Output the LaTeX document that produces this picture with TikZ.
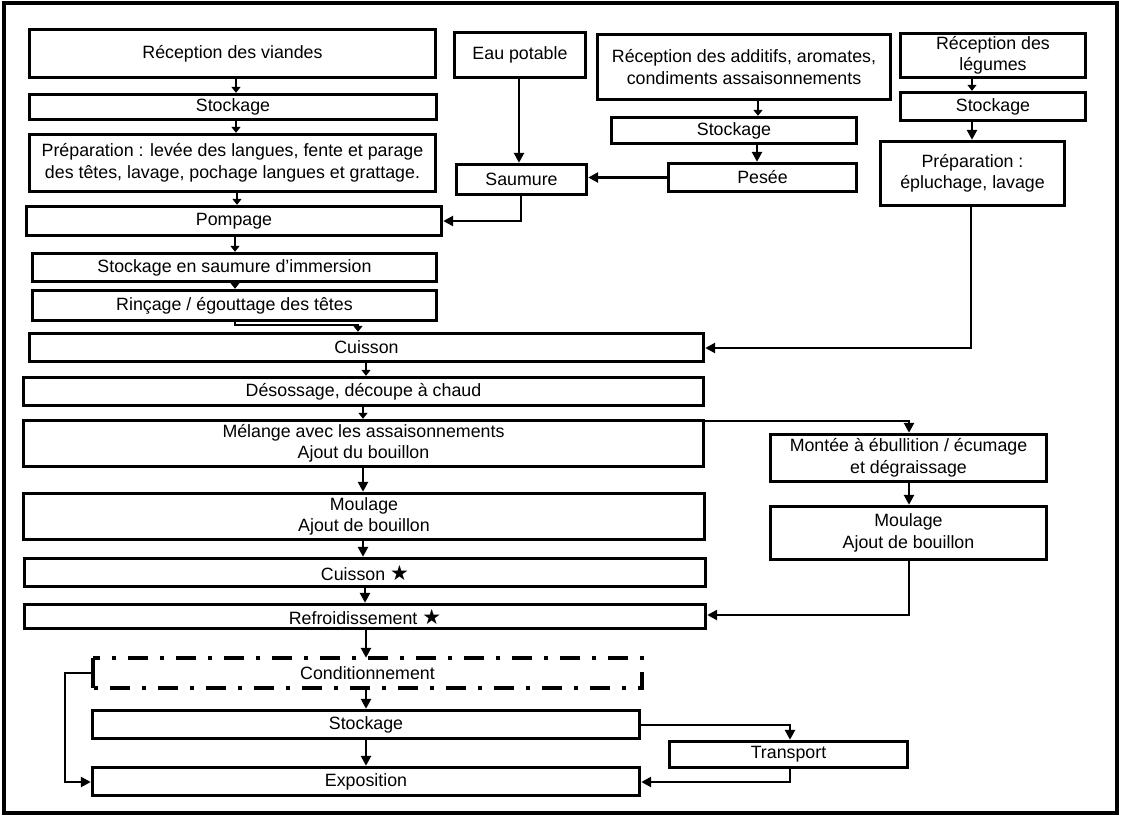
\documentclass[tikz,border=0pt]{standalone}
\usepackage{fontspec}
\setmainfont{Liberation Sans}
\newfontfamily\symfont{DejaVu Sans}
\usetikzlibrary{arrows.meta}
\newcommand{\etoile}{{\symfont\fontsize{21}{16}\selectfont ★}}
\begin{document}
\begin{tikzpicture}[x=1pt,y=-1pt,
  box/.style={draw, line width=3.4pt, inner sep=1pt, align=center,
    font=\fontsize{17.8}{21.5}\selectfont},
  conn/.style={line width=2.8pt, -{Triangle[length=10pt,width=10pt]}},
  shortconn/.style={line width=2.8pt, -{Triangle[length=6pt,width=9pt]}},
  ddbox/.style={box, draw=none},
  ddline/.style={line width=3.6pt, dash pattern=on 20pt off 12pt on 4pt off 12pt}]
\useasboundingbox (0,0) rectangle (1122,817);
\draw[line width=4pt] (4,3) rectangle (1117,813);

% left column
\node[box, minimum width=406pt, minimum height=48pt] (rv) at (232.5,53.5) {Réception des viandes};
\node[box, minimum width=407pt, minimum height=25pt] (st1) at (233,107) {Stockage};
\node[box, minimum width=406pt, minimum height=57pt] (prep) at (232.5,163) {Préparation : levée des langues, fente et parage\\des têtes, lavage, pochage langues et grattage.};
\node[box, minimum width=415pt, minimum height=29pt] (pomp) at (234,221) {Pompage};
\node[box, minimum width=404pt, minimum height=28pt] (ssi) at (234.5,267.5) {Stockage en saumure d’immersion};
\node[box, minimum width=404pt, minimum height=30pt] (rinc) at (234.5,305.5) {Rinçage / égouttage des têtes};
\node[box, minimum width=674pt, minimum height=28pt] (cuis) at (366.5,347.5) {Cuisson};
\node[box, minimum width=680pt, minimum height=28pt] (deso) at (363.5,391.5) {Désossage, découpe à chaud};
\node[box, minimum width=680pt, minimum height=46pt] (mel) at (363.5,443.5) {Mélange avec les assaisonnements\\Ajout du bouillon};
\node[box, minimum width=681pt, minimum height=46pt] (moul) at (364,516.5) {Moulage\\Ajout de bouillon};
\node[box, minimum width=681pt, minimum height=28pt] (cuis2) at (365,572.5) {Cuisson \etoile};
\node[box, minimum width=681pt, minimum height=24pt] (refr) at (365,616.5) {Refroidissement \etoile};
\node[ddbox, minimum width=546pt, minimum height=27pt] (cond) at (367.5,673) {Conditionnement};
\draw[ddline] (cond.north west) rectangle (cond.south east);
\draw[line width=3.6pt] (cond.north west) -- (cond.south west);
\node[box, minimum width=547pt, minimum height=28pt] (stk) at (366,724.5) {Stockage};
\node[box, minimum width=547pt, minimum height=28pt] (expo) at (366,781.5) {Exposition};
\node[box, minimum width=238pt, minimum height=26pt] (trans) at (788.5,754.5) {Transport};

% upper middle / right
\node[box, minimum width=131pt, minimum height=45pt] (eau) at (520,55) {Eau potable};
\node[box, minimum width=130pt, minimum height=30pt] (saum) at (521.5,179.5) {Saumure};
\node[box, minimum width=293pt, minimum height=65pt] (radd) at (744,67) {Réception des additifs, aromates,\\condiments assaisonnements};
\node[box, minimum width=245pt, minimum height=26pt] (st2) at (734,130.5) {Stockage};
\node[box, minimum width=188pt, minimum height=28pt] (pes) at (762.5,177.5) {Pesée};
\node[box, minimum width=185pt, minimum height=44pt] (rleg) at (993,55.5) {Réception des\\légumes};
\node[box, minimum width=185pt, minimum height=28pt] (st3) at (993,106.5) {Stockage};
\node[box, minimum width=184pt, minimum height=64pt] (prleg) at (972.5,173.5) {Préparation :\\épluchage, lavage};
\node[box, minimum width=276pt, minimum height=47pt] (mont) at (908.5,458) {Montée à ébullition / écumage\\et dégraissage};
\node[box, minimum width=276pt, minimum height=53pt] (moul2) at (908.5,533) {Moulage\\Ajout de bouillon};

% connectors, left column
\draw[shortconn] (236,0 |- rv.south) -- (236,0 |- st1.north);
\draw[shortconn] (236,0 |- st1.south) -- (236,0 |- prep.north);
\draw[shortconn] (237,0 |- prep.south) -- (237,0 |- pomp.north);
\draw[shortconn] (235,0 |- pomp.south) -- (235,0 |- ssi.north);
\draw[shortconn] (235,0 |- ssi.south) -- (235,0 |- rinc.north);
\draw[shortconn] (235,0 |- rinc.south) -- (235,325) -- (358,325) -- (358,0 |- cuis.north);
\draw[shortconn] (366,0 |- cuis.south) -- (366,0 |- deso.north);
\draw[shortconn] (363,0 |- deso.south) -- (363,0 |- mel.north);
\draw[conn] (363,0 |- mel.south) -- (363,0 |- moul.north);
\draw[conn] (363,0 |- moul.south) -- (363,0 |- cuis2.north);
\draw[conn] (365,0 |- cuis2.south) -- (365,0 |- refr.north);
\draw[conn] (366,0 |- refr.south) -- (366,0 |- cond.north);
\draw[conn] (366,0 |- cond.south) -- (366,0 |- stk.north);
\draw[conn] (366,0 |- stk.south) -- (366,0 |- expo.north);
\draw[conn] (stk.east |- 0,725) -- (790,725) -- (790,0 |- trans.north);
\draw[conn] (790,0 |- trans.south) -- (790,782) -- (expo.east |- 0,782);
\draw[conn] (cond.west) -- (65,673) -- (65,782) -- (expo.west |- 0,782);

% connectors, right side
\draw[conn] (519,0 |- eau.south) -- (519,0 |- saum.north);
\draw[conn] (pes.west) -- (saum.east |- pes.west);
\draw[conn] (521,0 |- saum.south) -- (521,221) -- (pomp.east |- 0,221);
\draw[shortconn] (758,0 |- radd.south) -- (758,0 |- st2.north);
\draw[conn] (757,0 |- st2.south) -- (757,0 |- pes.north);
\draw[shortconn] (972,0 |- rleg.south) -- (972,0 |- st3.north);
\draw[conn] (972,0 |- st3.south) -- (972,0 |- prleg.north);
\draw[conn] (971,0 |- prleg.south) -- (971,348) -- (cuis.east |- 0,348);
\draw[conn] (mel.east |- 0,421) -- (909,421) -- (909,0 |- mont.north);
\draw[conn] (909,0 |- mont.south) -- (909,0 |- moul2.north);
\draw[conn] (909,0 |- moul2.south) -- (909,615) -- (refr.east |- 0,615);
\end{tikzpicture}
\end{document}
